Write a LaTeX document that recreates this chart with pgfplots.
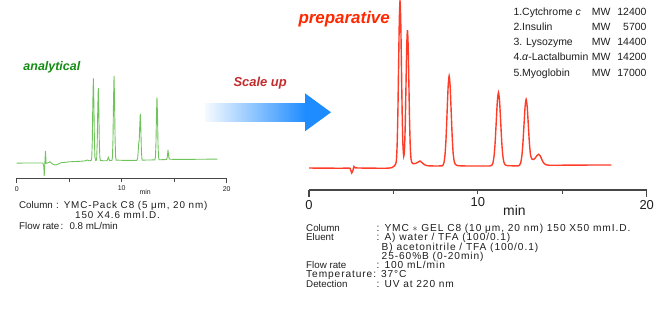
\documentclass[border=0pt]{standalone}
\usepackage{pgfplots}
\pgfplotsset{compat=1.18}
\usepackage{fontspec}
\setmainfont{Liberation Sans}
\newfontfamily\condfont[LetterSpace=9]{Liberation Sans}
\definecolor{anagreen}{RGB}{110,195,90}
\definecolor{anatext}{RGB}{20,140,20}
\definecolor{prepred}{RGB}{255,60,40}
\definecolor{preptext}{RGB}{255,40,0}
\definecolor{scaletext}{RGB}{195,45,45}
\definecolor{arrowblue}{RGB}{30,140,255}
\definecolor{axisgray}{RGB}{70,70,70}
\definecolor{txt}{RGB}{30,30,30}
\newcommand\fs[1]{\fontsize{#1}{#1}\selectfont}
\begin{document}
\begin{tikzpicture}[x=1bp,y=1bp]
\useasboundingbox (0,0) rectangle (660,327);

% ---------- analytical ----------
\begin{axis}[at={(16.7bp,148.7bp)}, anchor=south west, scale only axis,
  width=210bp, height=110bp, xmin=0, xmax=20, ymin=0, ymax=110,
  axis y line=none, axis x line*=bottom,
  x axis line style={-, draw=axisgray, line width=0.8bp},
  xtick={5,10,15}, xticklabels={,10,},
  extra x ticks={0,20}, extra x tick labels={0,20},
  tick align=outside, major tick length=3.5bp,
  extra x tick style={major tick length=5bp},
  tick style={axisgray, line width=0.8bp},
  /pgf/number format/assume math mode=true,
  ticklabel style={font=\fs{7}, text=txt},
  clip=false]
\addplot[anagreen, line width=0.9bp] coordinates {
(0,15.2) (1,15.3) (2,15.3) (2.5,15.3) (2.58,12) (2.62,2.3) (2.68,15) (2.74,27.3) (2.8,15) (2.9,15.3)
(3.05,15.8) (3.17,16.6) (3.3,15.2) (3.5,13.8) (3.7,13.3) (3.95,14.2) (4.2,15.5) (5,16.5) (6,17.0)
(6.5,17.4) (6.73,18.3) (6.9,17.5) (7.1,17.8) (7.15,21.1) (7.2,38.0) (7.25,75.8) (7.3,100) (7.35,75.8)
(7.4,38.0) (7.45,21.1) (7.52,18) (7.57,18) (7.62,20.7) (7.67,35.7) (7.72,69.1) (7.77,90.5) (7.82,69.1)
(7.87,35.7) (7.92,20.7) (7.97,17.8) (8.3,17.5) (8.6,17.6) (8.68,19.5) (8.73,21) (8.78,19.5) (8.86,17.7)
(9.07,17.9) (9.12,21.2) (9.17,38.7) (9.22,77.6) (9.27,102.3) (9.32,77.6) (9.37,38.7) (9.42,21.2) (9.47,18.2)
(10,18) (11,18) (11.45,18.0) (11.52,20) (11.57,27) (11.62,35) (11.67,38.5) (11.72,52.7) (11.77,64.3)
(11.82,50.7) (11.87,29.4) (11.92,19.8) (11.97,18.2) (12.5,18.3) (13.16,18.4) (13.21,20.8) (13.26,33.7)
(13.31,62.5) (13.36,81) (13.41,62.5) (13.46,33.7) (13.51,20.8) (13.56,18.6) (13.8,18.6) (14.25,18.8)
(14.33,20.5) (14.37,24) (14.41,28.3) (14.45,24) (14.5,20.5) (14.6,19.1) (15,18.9) (17,19.0) (19.1,19.2)
};
\end{axis}

% ---------- preparative ----------
\begin{axis}[at={(309bp,137bp)}, anchor=south west, scale only axis,
  width=337.7bp, height=190bp, xmin=0, xmax=20, ymin=0, ymax=190,
  axis y line=none, axis x line*=bottom,
  x axis line style={-, draw=axisgray, line width=1.1bp},
  xtick={5,10,15}, xticklabels={,10,},
  extra x ticks={0,20}, extra x tick labels={0,20},
  tick align=outside, major tick length=3.5bp,
  extra x tick style={major tick length=7bp},
  tick style={axisgray, line width=1.1bp},
  /pgf/number format/assume math mode=true,
  ticklabel style={font=\fs{13}, text=txt}]
\addplot[prepred, line width=1.4bp, smooth, tension=0.4] coordinates {
(0,22.0) (0.5,21.9) (1.0,21.9) (1.5,21.8) (2.0,21.8) (2.42,21.8) (2.48,19.5) (2.53,17.0) (2.6,19.5)
(2.66,23.5) (2.72,22.3) (2.9,22.0) (3.5,21.9) (4.0,21.8) (4.6,21.8) (4.9,22.3) (5.05,24.0) (5.135,26)
(5.1775,30.2) (5.22,45.3) (5.2625,76.8) (5.305,123.6) (5.3475,169.4) (5.39,188.9) (5.4325,169.4)
(5.475,123.6) (5.5175,76.9) (5.56,46.2) (5.61,33.6) (5.66,42.5) (5.7025,67.6) (5.745,106) (5.7875,143.8)
(5.83,159.9) (5.8725,143.8) (5.915,106) (5.9575,67.6) (6.0,42) (6.0425,31) (6.09,27.5) (6.17,26.3)
(6.3,26.5) (6.45,27.8) (6.57,29.0) (6.7,27.2) (6.85,25.2) (7.0,24.3) (7.5,24.0) (7.9,24.2) (7.94,25.0)
(8.0,28.0) (8.06,36.2) (8.12,53.2) (8.18,78.6) (8.24,103.4) (8.3,114) (8.36,103.4) (8.42,78.6) (8.48,53.2)
(8.54,36.2) (8.6,28.5) (8.66,25.8) (8.75,24.6) (9.0,24.1) (10.0,24.0) (10.7,24.0) (10.83,24.8)
(10.895,27.2) (10.96,34.0) (11.025,47.9) (11.09,68.7) (11.155,89.0) (11.22,97.7) (11.285,89.0)
(11.35,68.7) (11.415,47.9) (11.48,34.0) (11.545,27.6) (11.61,25.3) (11.7,24.5) (12.0,24.2) (12.4,24.2)
(12.47,24.9) (12.535,27.1) (12.6,33.2) (12.665,45.8) (12.73,64.5) (12.795,82.9) (12.86,90.7) (12.925,82.9)
(12.99,64.5) (13.055,46.5) (13.12,35) (13.2,31) (13.3,30.5) (13.4,32) (13.5,34.5) (13.6,35.7) (13.7,34)
(13.8,30) (13.9,27) (14.0,25.5) (14.2,24.8) (15,24.8) (16,24.9) (17,25.0) (17.9,25.0)
};
\end{axis}

% ---------- arrow ----------
\shade[left color=arrowblue!4, right color=arrowblue] (205,206) rectangle (306,223.5);
\fill[arrowblue] (305,233.7) -- (331,214.7) -- (305,195.7) -- cycle;

% ---------- titles ----------
\node[anchor=base west, inner sep=0, text=anatext, font=\fs{12.5}\bfseries\itshape] at (23.3,256.3) {analytical};
\node[anchor=base west, inner sep=0, text=scaletext, font=\fs{13}\bfseries\itshape] at (233.3,240.3) {Scale up};
\node[anchor=base west, inner sep=0, text=preptext, font=\fs{17}\bfseries\itshape] at (298.3,304) {preparative};

% ---------- axis "min" labels ----------
\node[anchor=base west, inner sep=0, text=txt, font=\fs{7}] at (139.3,133) {min};
\node[anchor=base west, inner sep=0, text=txt, font=\fs{14}] at (503,112) {min};

% ---------- legend list ----------
\begin{scope}[every node/.style={inner sep=0, text=txt, font=\fs{10.5}}]
\node[anchor=base west] at (513.3,312) {1.Cytchrome \textit{c}};
\node[anchor=base west] at (513.3,297) {2.Insulin};
\node[anchor=base west] at (513.3,282) {3. Lysozyme};
\node[anchor=base west] at (513.3,266.3) {4.\textit{α}-Lactalbumin};
\node[anchor=base west] at (513.3,251) {5.Myoglobin};
\foreach \yy in {312,297,282,266.3,251} \node[anchor=base west] at (591.7,\yy) {MW};
\node[anchor=base east] at (646.7,312) {12400};
\node[anchor=base east] at (646.7,297) {5700};
\node[anchor=base east] at (646.7,282) {14400};
\node[anchor=base east] at (646.7,266.3) {14200};
\node[anchor=base east] at (646.7,251) {17000};
\end{scope}

% ---------- analytical conditions ----------
\begin{scope}[every node/.style={inner sep=0, anchor=base west, text=txt, font=\fs{9.8}}]
\node at (19,118.7) {Column};
\node[font=\condfont\fs{9.9}] at (56,118.7) {: YMC-Pack C8 (5 μm, 20 nm)};
\node[font=\condfont\fs{9.9}] at (75,108.3) {150 X4.6 mmI.D.};
\node at (19,97.8) {Flow rate};
\node at (60.5,97.8) {:};
\node at (69.3,97.8) {0.8 mL/min};
\end{scope}

% ---------- preparative conditions ----------
\begin{scope}[every node/.style={inner sep=0, anchor=base west, text=txt, font=\condfont\fs{10.2}}]
\node[font=\fs{9.8}] at (306,95.3) {Column};
\node at (376.5,95.3) {: YMC $\ast$ GEL C8 (10 μm, 20 nm) 150 X50 mmI.D.};
\node[font=\fs{9.8}] at (306,86.3) {Eluent};
\node at (376.5,86.3) {: A) water / TFA (100/0.1)};
\node at (381.5,77) {B) acetonitrile / TFA (100/0.1)};
\node at (381.5,68) {25-60\%B (0-20min)};
\node[font=\fs{9.8}] at (306,58.7) {Flow rate};
\node at (376.5,58.7) {: 100 mL/min};
\node at (306,49.3) {Temperature: 37°C};
\node[font=\fs{9.8}] at (306,39.7) {Detection};
\node at (376.5,39.7) {: UV at 220 nm};
\end{scope}
\end{tikzpicture}
\end{document}
